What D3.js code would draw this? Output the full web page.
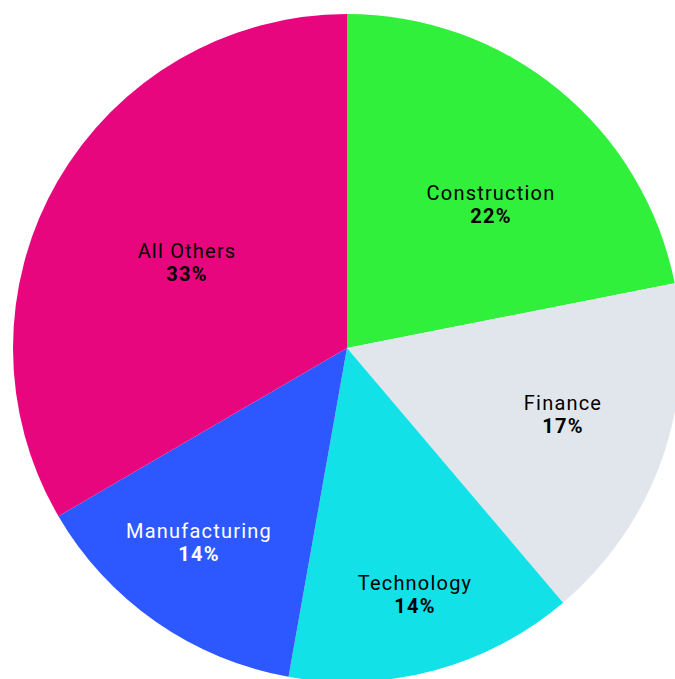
<!DOCTYPE html>
<html>
<head>
<meta charset="utf-8">
<script src="https://cdn.jsdelivr.net/npm/d3@7"></script>
<style>
  html, body { margin: 0; padding: 0; background: #fff; }
  svg { display: block; }
  .lbl-name { font-family: Roboto, "Noto Sans", sans-serif; font-size: 20px; letter-spacing: 1.2px; }
  .lbl-pct { font-family: Roboto, "Noto Sans", sans-serif; font-size: 20px; font-weight: 700; letter-spacing: 1.2px; }
</style>
</head>
<body>
<svg id="chart" width="675" height="679"></svg>
<script>
// slice data, clockwise from 12 o'clock
const categories = ["Construction", "Finance", "Technology", "Manufacturing", "All Others"];
const shares = [21.9, 16.9, 14.0, 13.8, 33.4];

const sliceColors = ["#30f03c", "#e1e6ed", "#13e1e8", "#2e58ff", "#e8067f"];
const labelColors = ["#000", "#000", "#000", "#fff", "#000"];

const svg = d3.select("#chart");
const cx = 347, cy = 348, radius = 334;
const edgePad = 12; // labels may sit a bit closer to the rim than to the slice sides

const data = categories.map((c, i) => ({ name: c, value: shares[i], i: i }));
const total = d3.sum(shares);

const pie = d3.pie().sort(null).value(d => d.value);
const arc = d3.arc().innerRadius(0).outerRadius(radius);

const g = svg.append("g").attr("transform", `translate(${cx},${cy})`);

g.selectAll("path")
  .data(pie(data))
  .enter()
  .append("path")
    .attr("d", arc)
    .attr("fill", d => sliceColors[d.data.i]);

// labels
const labels = g.selectAll("g.lbl")
  .data(pie(data))
  .enter()
  .append("g")
    .attr("class", "lbl");

labels.append("text")
  .attr("class", "lbl-name")
  .attr("text-anchor", "middle")
  .attr("fill", d => labelColors[d.data.i])
  .attr("y", 0)
  .text(d => d.data.name);

labels.append("text")
  .attr("class", "lbl-pct")
  .attr("text-anchor", "middle")
  .attr("fill", d => labelColors[d.data.i])
  .attr("y", 23)
  .text(d => Math.round(d.data.value / total * 100) + "%");

// place each label box where it sits furthest from the slice edges
function boxMargin(px, py, w, h, a0, a1) {
  const hw = w / 2, hh = h / 2;
  let far = 0;
  [[-hw, -hh], [hw, -hh], [-hw, hh], [hw, hh]].forEach(([dx, dy]) => {
    far = Math.max(far, Math.hypot(px + dx, py + dy));
  });
  const mc = radius + edgePad - far;
  const n0 = [Math.cos(a0), Math.sin(a0)];
  const n1 = [-Math.cos(a1), -Math.sin(a1)];
  const m0 = n0[0] * px + n0[1] * py - (Math.abs(n0[0]) * hw + Math.abs(n0[1]) * hh);
  const m1 = n1[0] * px + n1[1] * py - (Math.abs(n1[0]) * hw + Math.abs(n1[1]) * hh);
  return Math.min(mc, m0, m1);
}

labels.each(function(d) {
  const node = d3.select(this);
  const bb = this.getBBox();
  let best = null, bestM = -Infinity;
  for (let x = -radius; x <= radius; x += 2) {
    for (let y = -radius; y <= radius; y += 2) {
      const m = boxMargin(x, y, bb.width, bb.height, d.startAngle, d.endAngle);
      if (m > bestM) { bestM = m; best = [x, y]; }
    }
  }
  const ox = best[0] - (bb.x + bb.width / 2);
  const oy = best[1] - (bb.y + bb.height / 2);
  node.attr("transform", `translate(${ox},${oy})`);
});
</script>
</body>
</html>
